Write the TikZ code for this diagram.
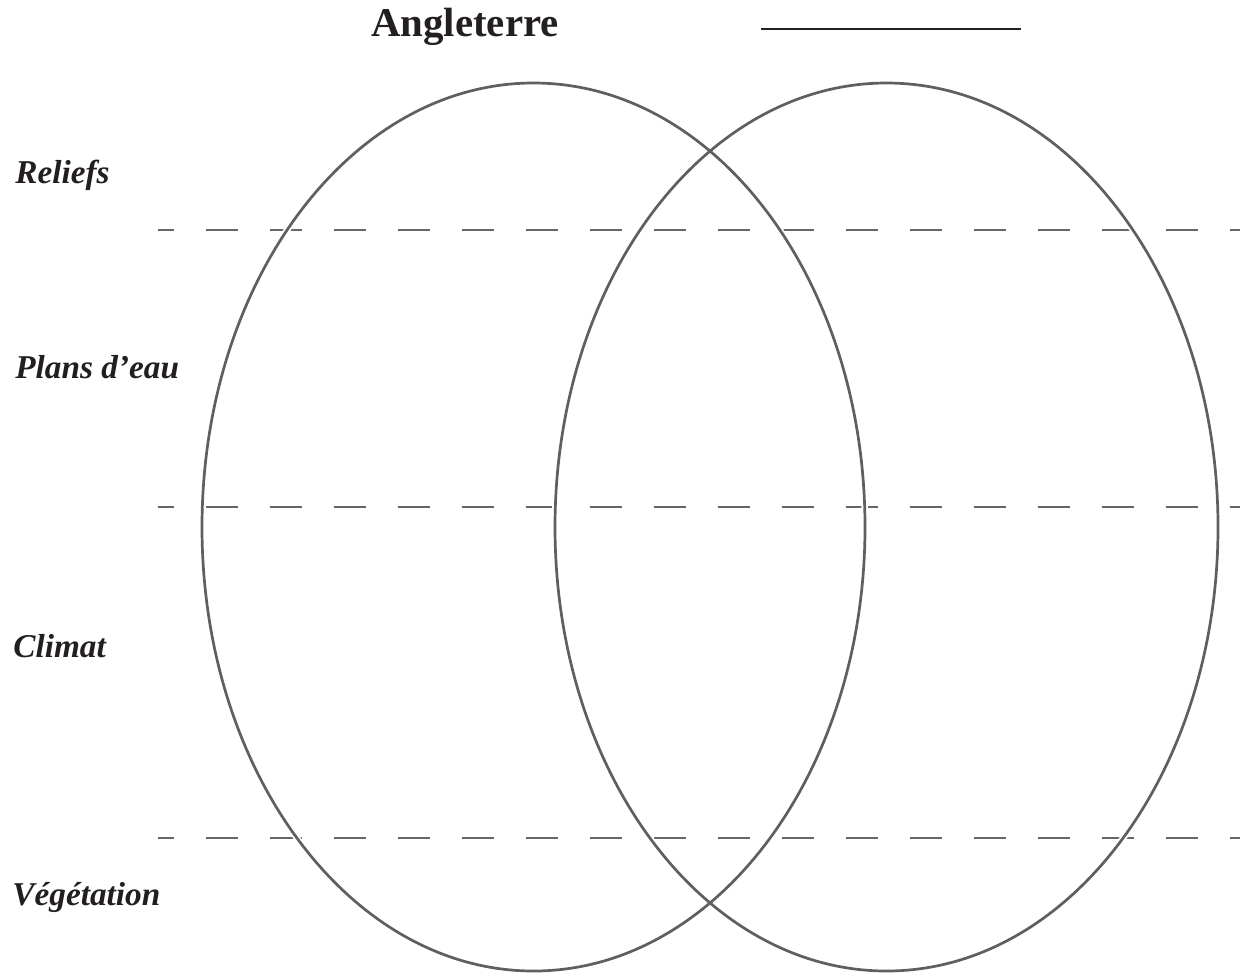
\documentclass[tikz,border=0pt]{standalone}
\usepackage{fontspec}
\setmainfont{Liberation Serif}
\definecolor{inkgray}{HTML}{5F5F5F}
\definecolor{dashgray}{HTML}{666666}
\definecolor{inkblack}{HTML}{231F20}
\tikzset{
  titletext/.style={font=\fontsize{20.5}{23}\selectfont\bfseries, text=inkblack, inner sep=0pt, anchor=base},
  rowlabel/.style={font=\fontsize{16.7}{19}\selectfont\bfseries\itshape, text=inkblack, inner sep=0pt, anchor=base west},
  rowsep/.style={draw=dashgray, line width=1bp, dash pattern=on 16bp off 16bp, dash phase=8bp},
  venn/.style={draw=inkgray, line width=1.35bp},
  halo/.style={draw=white, line width=3.2bp},
  blank/.style={draw=inkblack, line width=1.25bp}
}
\begin{document}
\begin{tikzpicture}[x=0.5bp, y=-0.5bp]
\useasboundingbox (0,0) rectangle (1240,972);
% title and blank
\node[titletext] (title) at (465,36) {Angleterre};
\coordinate (blankA) at (761,29);
\coordinate (blankB) at (1021,29);
\draw[blank] (blankA) -- (blankB);
% dashed separators
\coordinate (s1a) at (158,230); \coordinate (s1b) at (1240,230);
\coordinate (s2a) at (158,507); \coordinate (s2b) at (1240,507);
\coordinate (s3a) at (158,838); \coordinate (s3b) at (1240,838);
\draw[rowsep] (s1a) -- (s1b);
\draw[rowsep] (s2a) -- (s2b);
\draw[rowsep] (s3a) -- (s3b);
% ellipses
\coordinate (cL) at (533.5,527);
\coordinate (cR) at (886.5,527);
\path[halo] (cL) ellipse [x radius=331.5, y radius=444];
\path[halo] (cR) ellipse [x radius=331.5, y radius=444];
\path[venn] (cL) ellipse [x radius=331.5, y radius=444];
\path[venn] (cR) ellipse [x radius=331.5, y radius=444];
% row labels
\node[rowlabel] (reliefs) at (15,183) {Reliefs};
\node[rowlabel] (plans) at (15,378) {Plans d’eau};
\node[rowlabel] (climat) at (13,657) {Climat};
\node[rowlabel] (veget) at (12,905) {Végétation};
\end{tikzpicture}
\end{document}
